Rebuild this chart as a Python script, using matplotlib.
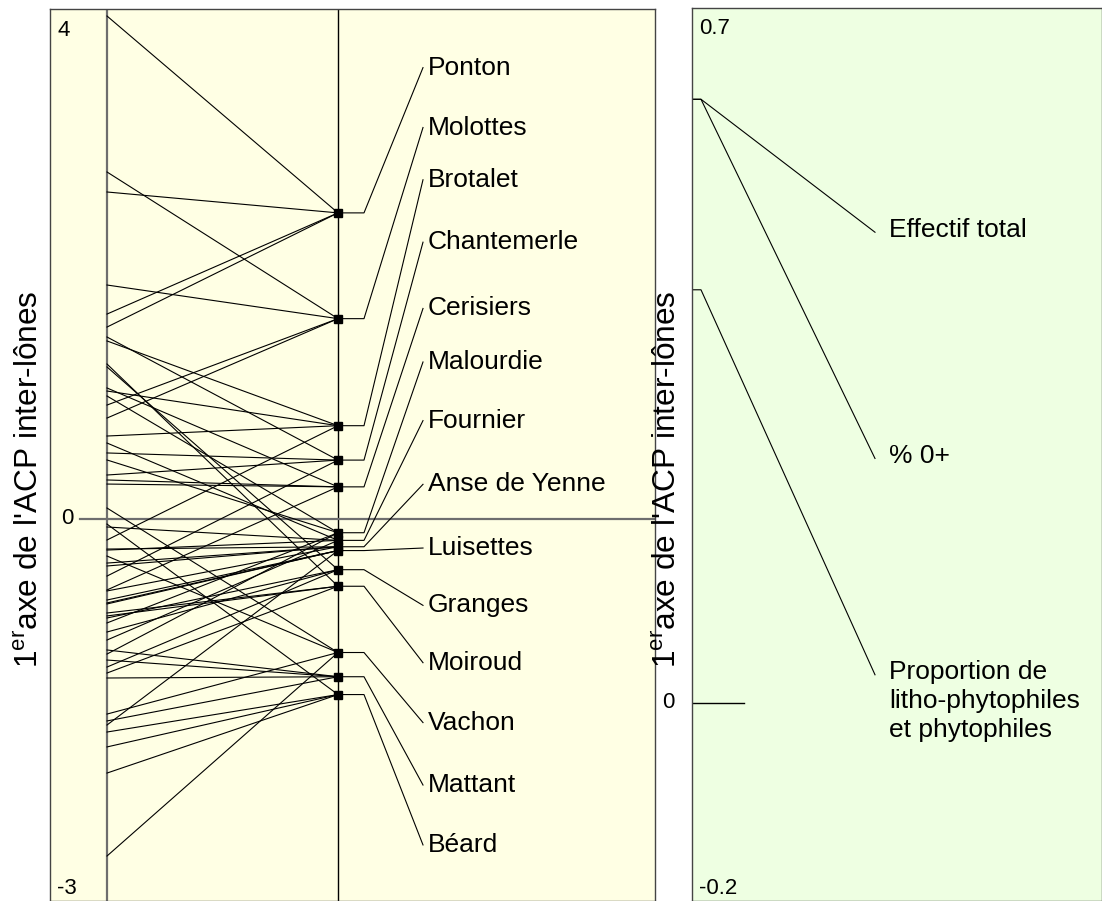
import matplotlib
matplotlib.use("Agg")
import matplotlib.pyplot as plt
import matplotlib.transforms as mtrans

plt.rcParams['font.family'] = ['Liberation Sans', 'DejaVu Sans']
plt.rcParams['mathtext.fontset'] = 'custom'
plt.rcParams['mathtext.rm'] = 'Liberation Sans'
plt.rcParams['mathtext.it'] = 'Liberation Sans'

# --- data ---
sites = ["Ponton", "Molottes", "Brotalet", "Chantemerle", "Cerisiers", "Malourdie",
         "Fournier", "Anse de Yenne", "Luisettes", "Granges", "Moiroud", "Vachon",
         "Mattant", "Béard"]
site_means = [2.40, 1.57, 0.73, 0.46, 0.25, -0.11, -0.17, -0.22, -0.25, -0.40,
              -0.53, -1.05, -1.24, -1.38]
label_y = [3.54, 3.07, 2.66, 2.17, 1.65, 1.23, 0.77, 0.27, -0.23, -0.68, -1.13,
           -1.60, -2.09, -2.56]
# yearly scores of each site on axis 1
year_scores = [
    [3.945, 2.564, 1.606, 1.504],      # Ponton
    [2.721, 1.834, 0.892, 0.790],      # Molottes
    [1.395, 1.002, 0.649, -0.167],     # Brotalet
    [1.426, 0.516, 0.343, -0.450],     # Chantemerle
    [1.026, 0.304, 0.272, -0.559],     # Cerisiers
    [0.963, 0.461, -0.818, -1.062],    # Malourdie
    [0.594, -0.065, -0.246, -0.952],   # Fournier
    [-0.238, -0.348, -0.371, -0.567],  # Anse de Yenne
    [-0.638, -0.661, -0.669, -1.619],  # Luisettes
    [1.191, -0.779, -0.889, -1.164],   # Granges
    [1.214, -0.740, -0.763, -1.211],   # Moiroud
    [0.084, -0.293, -1.533, -2.647],   # Vachon
    [-1.030, -1.109, -1.250, -1.587],  # Mattant
    [-0.042, -1.674, -1.791, -1.996],  # Béard
]
left_lim = (-3, 4)

variables = ["Effectif total", "% 0+", "Proportion de\nlitho-phytophiles\net phytophiles"]
var_scores = [0.608, 0.608, 0.416]
var_label_y = [0.474, 0.246, 0.028]
right_lim = (-0.2, 0.7)

# --- layout ---
W, H = 1102, 901
fig = plt.figure(figsize=(W / 100, H / 100), dpi=100)
YEL = "#FFFFE4"
GRN = "#EEFFE2"
EDGE = "#444444"
LAB_FS = 19
TICK_FS = 16

axL = fig.add_axes([50 / W, 0, 605 / W, 892 / H])
axL.set_facecolor(YEL)
axL.set_xlim(-57 / 231, 548 / 231)
axL.set_ylim(*left_lim)
axL.set_xticks([]); axL.set_yticks([])
for s in axL.spines.values():
    s.set_color(EDGE); s.set_linewidth(1)

axL.axvline(0, color="#6e6e6e", lw=1.6, zorder=2)
axL.axvline(1, color="black", lw=1.0, zorder=2)
axL.plot([30 / 605, 1], [0, 0], color="#6e6e6e", lw=1.6, zorder=2,
         transform=mtrans.blended_transform_factory(axL.transAxes, axL.transData))

for vals, m in zip(year_scores, site_means):
    for v in vals:
        axL.plot([0, 1], [v, m], color="black", lw=0.8, zorder=3)
axL.plot([1] * len(site_means), site_means, "s", color="black", ms=5.5, zorder=5)

x_elbow = (364 - 107) / 231
x_end = (423 - 107) / 231
x_txt = (428 - 107) / 231
for name, m, ly in zip(sites, site_means, label_y):
    axL.plot([1, x_elbow, x_end], [m, m, ly], color="black", lw=0.8, zorder=3)
    axL.text(x_txt, ly, name, fontsize=LAB_FS, va="center", ha="left")

axL.text(7 / 605, 1 - 21 / 892, str(left_lim[1]), transform=axL.transAxes,
         fontsize=TICK_FS, va="center", ha="left")
axL.text(7 / 605, 13 / 892, str(left_lim[0]), transform=axL.transAxes,
         fontsize=TICK_FS, va="center", ha="left")
axL.text(23 / 605, 0, "0", fontsize=TICK_FS, va="center", ha="right",
         transform=mtrans.blended_transform_factory(axL.transAxes, axL.transData))

axR = fig.add_axes([692 / W, 0, 410 / W, 893 / H])
axR.set_facecolor(GRN)
axR.set_xlim(0, 1)
axR.set_ylim(*right_lim)
axR.set_xticks([]); axR.set_yticks([])
for s in axR.spines.values():
    s.set_color(EDGE); s.set_linewidth(1)
axR.plot([0, 52 / 410], [0, 0], color="black", lw=1.0)

r_elbow = 9 / 410
r_end = (875 - 692) / 410
r_txt = (889 - 692) / 410
for name, v, ly in zip(variables, var_scores, var_label_y):
    axR.plot([0, r_elbow, r_end], [v, v, ly], color="black", lw=0.8)
    axR.annotate(name, xy=(r_txt, ly), xytext=(0, 10.5), textcoords="offset points",
                 fontsize=LAB_FS, va="top", ha="left", linespacing=1.26)

axR.text(7 / 410, 1 - 20 / 893, "0.7", transform=axR.transAxes,
         fontsize=TICK_FS, va="center", ha="left")
axR.text(7 / 410, 13 / 893, "-0.2", transform=axR.transAxes,
         fontsize=TICK_FS, va="center", ha="left")
axR.text(-17 / 410, 0, "0", fontsize=TICK_FS, va="center", ha="right",
         transform=mtrans.blended_transform_factory(axR.transAxes, axR.transData))

ylab = r"$\mathregular{1^{er}}$axe de l'ACP inter-lônes"
fig.text(30 / W, 1 - 479 / H, ylab, rotation=90, fontsize=22.8, va="center", ha="center")
fig.text(668 / W, 1 - 479 / H, ylab, rotation=90, fontsize=22.8, va="center", ha="center")

fig.savefig("out.png", dpi=100, facecolor="white")
